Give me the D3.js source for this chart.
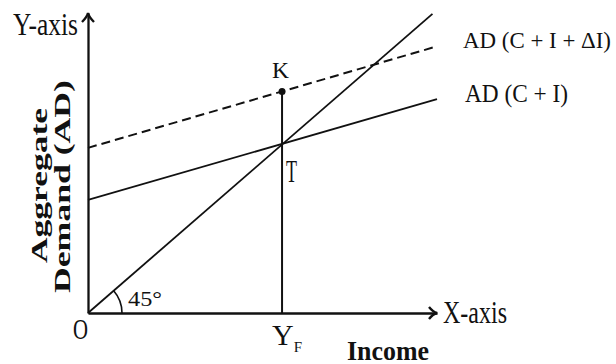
<!DOCTYPE html>
<html>
<head>
<meta charset="utf-8">
<script src="https://cdn.jsdelivr.net/npm/d3@7"></script>
<style>
  body { margin: 0; background: #fff; }
  svg { display: block; }
  .axis path { stroke: #111; stroke-width: 2.3; }
  text { font-family: "Liberation Serif", "Times New Roman", serif; fill: #111; }
</style>
</head>
<body>
<div id="chart"></div>
<script>
// values (income on x, aggregate demand on y)
const income = [0, 100]
const adCI = [37.3, 70.6]        // AD (C + I) at income 0 and 100
const adCIdI = [54.5, 88.0]      // AD (C + I + ΔI) at income 0 and 100
const line45 = [0, 98.7]         // 45° line, AD = income
const yF = 55.6                  // full employment income

const width = 616, height = 364

const svg = d3.select("#chart").append("svg")
  .attr("width", width)
  .attr("height", height)

const x = d3.scaleLinear().domain([0, 100]).range([88, 437])
const y = d3.scaleLinear().domain([0, 99]).range([313, 13])

// axes, no ticks
svg.append("g")
  .attr("class", "axis")
  .attr("transform", "translate(0," + y(0) + ")")
  .call(d3.axisBottom(x).ticks(0).tickSizeOuter(0))

svg.append("g")
  .attr("class", "axis")
  .attr("transform", "translate(" + x(0) + ",0)")
  .call(d3.axisLeft(y).ticks(0).tickSizeOuter(0))

// arrow heads
const xe = x(100), ye = y(0)
svg.append("path")
  .attr("d", `M${xe - 8},${ye - 6} Q${xe - 4},${ye - 1} ${xe},${ye} Q${xe - 4},${ye + 1} ${xe - 8},${ye + 6}`)
  .attr("fill", "none").attr("stroke", "#111").attr("stroke-width", 2.4)
const xt = x(0), yt = y(99)
svg.append("path")
  .attr("d", `M${xt - 6},${yt + 9} Q${xt - 1},${yt + 4} ${xt},${yt} Q${xt + 1},${yt + 4} ${xt + 6},${yt + 9}`)
  .attr("fill", "none").attr("stroke", "#111").attr("stroke-width", 2.4)

const line = d3.line().x(d => x(d[0])).y(d => y(d[1]))

// 45 degree line
svg.append("path")
  .datum(line45.map(v => [v, v]))
  .attr("d", line)
  .attr("fill", "none").attr("stroke", "#111").attr("stroke-width", 1.8)

// AD (C + I)
svg.append("path")
  .datum(income.map((v, i) => [v, adCI[i]]))
  .attr("d", line)
  .attr("fill", "none").attr("stroke", "#111").attr("stroke-width", 1.8)

// AD (C + I + ΔI), dashed
svg.append("path")
  .datum(income.map((v, i) => [v, adCIdI[i]]))
  .attr("d", line)
  .attr("fill", "none").attr("stroke", "#111").attr("stroke-width", 2)
  .attr("stroke-dasharray", "9,5")

// vertical at Y_F up to K
const kVal = d3.scaleLinear().domain(income).range(adCIdI)(yF)
svg.append("line")
  .attr("x1", x(yF)).attr("x2", x(yF))
  .attr("y1", y(0)).attr("y2", y(kVal))
  .attr("stroke", "#111").attr("stroke-width", 2)

svg.append("circle")
  .attr("cx", x(yF)).attr("cy", y(kVal)).attr("r", 3.5)
  .attr("fill", "#111")

// 45° angle arc
const theta = Math.atan2(y(0) - y(line45[1]), x(line45[1]) - x(0))
const arc = d3.path()
arc.arc(x(0), y(0), 34, 0, -theta, true)
svg.append("path")
  .attr("d", arc.toString())
  .attr("fill", "none").attr("stroke", "#111").attr("stroke-width", 1.6)

// labels
function label(txt, lx, ly, fs, len, bold) {
  const t = svg.append("text")
    .attr("x", lx).attr("y", ly)
    .attr("font-size", fs)
    .text(txt)
  if (len) t.attr("textLength", len).attr("lengthAdjust", "spacingAndGlyphs")
  if (bold) t.attr("font-weight", "bold")
  return t
}

label("Y-axis", 13, 35, 31, 65)
label("X-axis", 443, 323, 31, 64)
label("AD (C + I + ΔI)", 463, 48, 24, 148)
label("AD (C + I)", 465, 102, 25, 103)
label("K", x(yF) - 10, y(kVal) - 13, 24, 17)
label("T", x(yF) + 4, 182, 31, 11)
label("45°", 128, 306, 20, 34)
label("O", 73, 339, 29, 15)
label("Income", 347, 360, 28, 82, true)

// Y with subscript F
const yfLabel = svg.append("text")
  .attr("x", x(yF) - 10).attr("y", 345)
  .attr("font-size", 30)
yfLabel.append("tspan").text("Y")
yfLabel.append("tspan").attr("font-size", 15).attr("dy", 7).text("F")

// rotated y title
svg.append("text")
  .attr("transform", "translate(47,263) rotate(-90)")
  .attr("font-size", 24).attr("font-weight", "bold")
  .attr("textLength", 155).attr("lengthAdjust", "spacingAndGlyphs")
  .text("Aggregate")
svg.append("text")
  .attr("transform", "translate(70,293) rotate(-90)")
  .attr("font-size", 24).attr("font-weight", "bold")
  .attr("textLength", 213).attr("lengthAdjust", "spacingAndGlyphs")
  .text("Demand (AD)")
</script>
</body>
</html>
